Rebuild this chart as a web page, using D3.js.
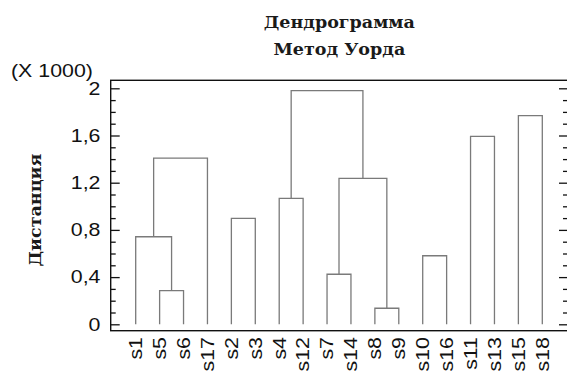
<!DOCTYPE html>
<html>
<head>
<meta charset="utf-8">
<script src="https://cdn.jsdelivr.net/npm/d3@7/dist/d3.min.js"></script>
<style>
  html, body { margin: 0; padding: 0; background: #fff; }
  svg { display: block; }
</style>
</head>
<body>
<svg id="chart" width="567" height="374"></svg>
<script>
// Leaf order along the horizontal axis
const leaves = ["s1","s5","s6","s17","s2","s3","s4","s12","s7","s14","s8","s9","s10","s16","s11","s13","s15","s18"];

// Agglomeration steps (Ward): joined members and join distance (x 1000)
const mergeId     = ["m1","m2","m3","m4","m5","m6","m7","m8","m9","m10","m11","m12"];
const mergeLeft   = ["s5","s1","m2","s2","s4","s7","s8","m6","m5","s10","s11","s15"];
const mergeRight  = ["s6","m1","s17","s3","s12","s14","s9","m7","m8","s16","s13","s18"];
const mergeHeight = [0.285,0.742,1.409,0.898,1.068,0.424,0.136,1.237,1.98,0.581,1.593,1.768];

// Axis ticks
const majorTicks  = [0, 0.4, 0.8, 1.2, 1.6, 2];
const majorLabels = ["0","0,4","0,8","1,2","1,6","2"];
const minorTicks  = [0.1,0.2,0.3,0.5,0.6,0.7,0.9,1.0,1.1,1.3,1.4,1.5,1.7,1.8,1.9];

const svg = d3.select("#chart");
const frame = { left: 110.7, right: 568, top: 80.3, bottom: 330.7 };
const y = d3.scaleLinear().domain([0, 2]).range([324.3, 88.3]);
const x = d3.scalePoint().domain(leaves).range([135.7, 542.3]);

const sansFont = "'Liberation Sans', Arial, sans-serif";
const serifFont = "'DejaVu Serif', serif";
const stretch = 1.22;

// Title, centred over the plot frame
const cx = (frame.left + frame.right) / 2;
const title = svg.append("g")
  .attr("font-family", serifFont)
  .attr("font-weight", "bold")
  .attr("font-size", 17.5)
  .attr("text-anchor", "middle")
  .attr("fill", "#1a1a1a");
title.append("text").attr("x", cx).attr("y", 27.5).text("Дендрограмма");
title.append("text").attr("x", cx).attr("y", 54.5).text("Метод Уорда");

// Scale multiplier label
svg.append("g")
  .attr("transform", "translate(11,77) scale(" + stretch + ",1)")
  .append("text")
  .attr("font-family", sansFont)
  .attr("font-size", 17.5)
  .attr("fill", "#111")
  .text("(X 1000)");

// Y axis title
svg.append("text")
  .attr("transform", "translate(41,210) rotate(-90)")
  .attr("font-family", serifFont)
  .attr("font-weight", "bold")
  .attr("font-size", 17.5)
  .attr("text-anchor", "middle")
  .attr("fill", "#1a1a1a")
  .text("Дистанция");

// Tick marks on both sides, pointing into the plot
function tickAxis(axisFn, xpos, values, size) {
  const g = svg.append("g")
    .attr("transform", "translate(" + xpos + ",0)")
    .call(axisFn(y).tickValues(values).tickSize(size).tickFormat(""));
  g.select(".domain").remove();
  g.selectAll(".tick line").attr("stroke", "#111").attr("stroke-width", 1.3);
}
tickAxis(d3.axisRight, frame.left, majorTicks, 9);
tickAxis(d3.axisRight, frame.left, minorTicks, 5);
tickAxis(d3.axisLeft, frame.right, majorTicks, 9);
tickAxis(d3.axisLeft, frame.right, minorTicks, 5);

// Y tick labels
svg.append("g").selectAll("g")
  .data(majorTicks)
  .join("g")
  .attr("transform", d => "translate(100.5," + (y(d) + 6.3) + ") scale(" + stretch + ",1)")
  .append("text")
  .attr("font-family", sansFont)
  .attr("font-size", 17.5)
  .attr("text-anchor", "end")
  .attr("fill", "#111")
  .text((d, i) => majorLabels[i]);

// Leaf labels
svg.append("g").selectAll("g")
  .data(leaves)
  .join("g")
  .attr("transform", d => "translate(" + (x(d) + 6.3) + ",337) rotate(-90) scale(" + stretch + ",1)")
  .append("text")
  .attr("font-family", sansFont)
  .attr("font-size", 17.5)
  .attr("text-anchor", "end")
  .attr("fill", "#111")
  .text(d => d);

// Node positions: leaves sit at zero, joins at the midpoint of their members
const node = new Map();
leaves.forEach(l => node.set(l, { x: x(l), h: 0 }));
mergeId.forEach((id, i) => {
  const a = node.get(mergeLeft[i]), b = node.get(mergeRight[i]);
  node.set(id, { x: (a.x + b.x) / 2, h: mergeHeight[i], a, b });
});

// Dendrogram links (U-shaped brackets)
svg.append("g")
  .attr("fill", "none")
  .attr("stroke", "#7a7a7a")
  .attr("stroke-width", 1.3)
  .selectAll("path")
  .data(mergeId.map(id => node.get(id)))
  .join("path")
  .attr("d", d => "M" + d.a.x + "," + y(d.a.h) + "V" + y(d.h) + "H" + d.b.x + "V" + y(d.b.h));

// Plot frame
svg.append("rect")
  .attr("x", frame.left).attr("y", frame.top)
  .attr("width", frame.right - frame.left).attr("height", frame.bottom - frame.top)
  .attr("fill", "none").attr("stroke", "#111").attr("stroke-width", 1.4);
</script>
</body>
</html>
